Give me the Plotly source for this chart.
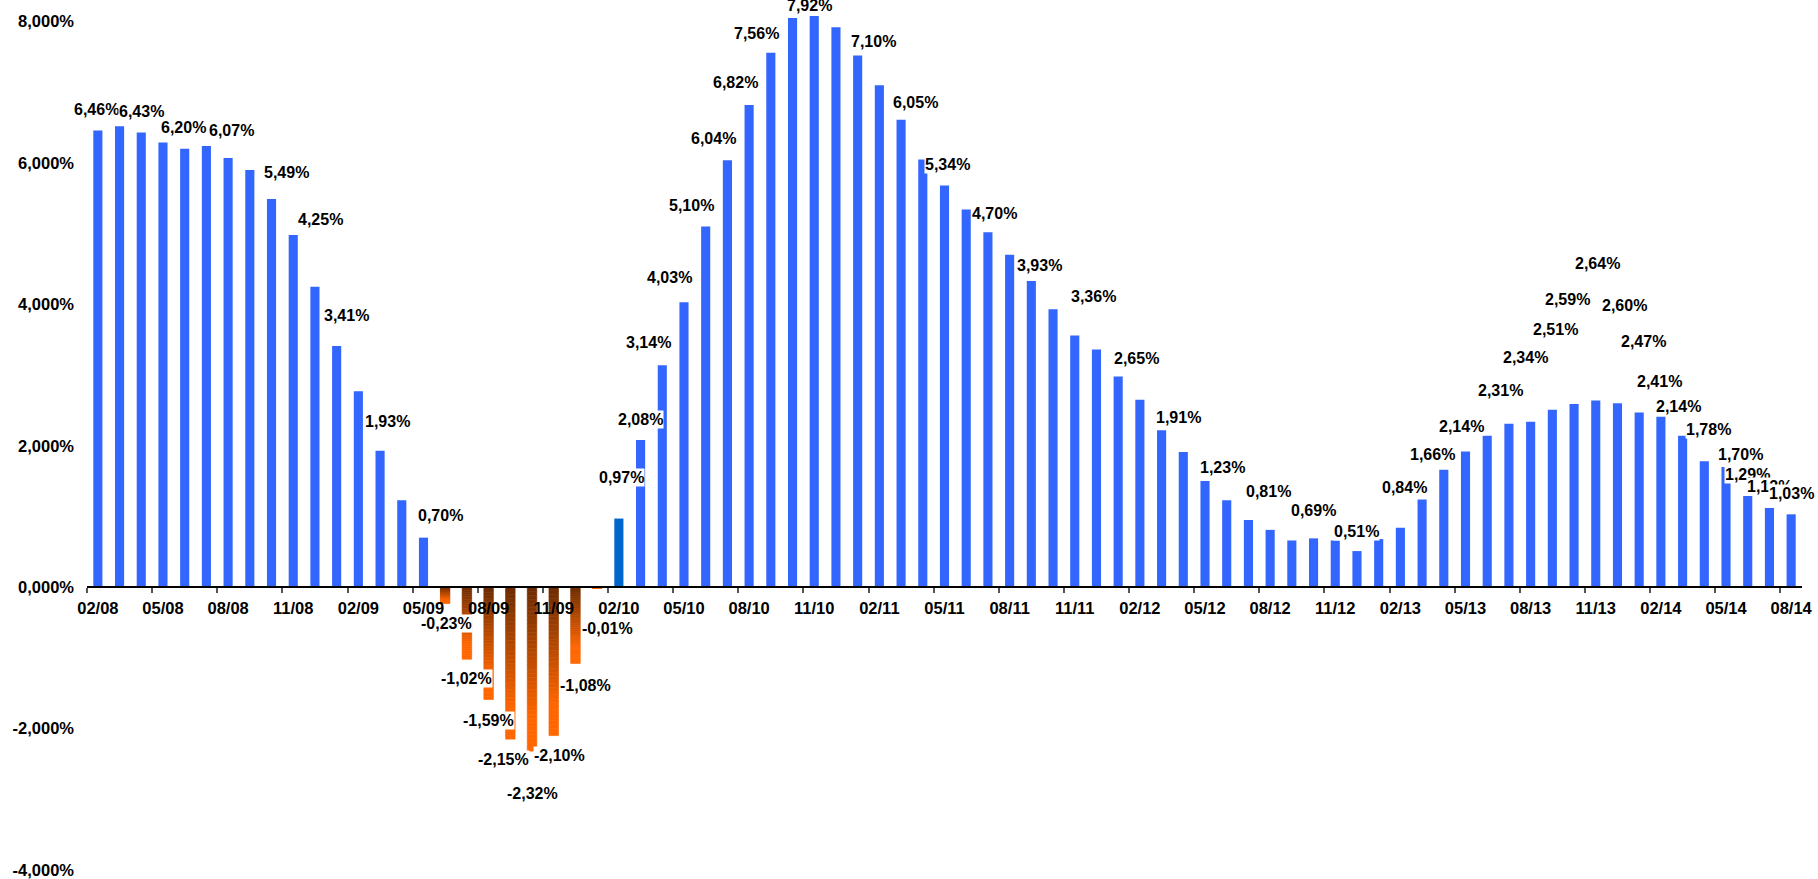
import plotly.graph_objects as go
import pandas as pd

# Monthly categories 02/08 .. 08/14
months = pd.date_range("2008-02-01", "2014-08-01", freq="MS").strftime("%m/%y").tolist()

# Year-on-year change, in percent
rate = [
    6.46, 6.52, 6.43, 6.29, 6.20, 6.24, 6.07, 5.90, 5.49, 4.98, 4.25,            # 2008
    3.41, 2.77, 1.93, 1.23, 0.70, -0.23, -1.02, -1.59, -2.15, -2.32, -2.10, -1.08,  # 2009
    -0.01, 0.97, 2.08, 3.14, 4.03, 5.10, 6.04, 6.82, 7.56, 8.05, 8.08, 7.92,     # 2010
    7.52, 7.10, 6.61, 6.05, 5.68, 5.34, 5.02, 4.70, 4.33, 3.93, 3.56, 3.36,      # 2011
    2.98, 2.65, 2.22, 1.91, 1.50, 1.23, 0.95, 0.81, 0.66, 0.69, 0.66, 0.51,      # 2012
    0.68, 0.84, 1.24, 1.66, 1.92, 2.14, 2.31, 2.34, 2.51, 2.59, 2.64, 2.60,      # 2013
    2.47, 2.41, 2.14, 1.78, 1.70, 1.29, 1.12, 1.03,                              # 2014
]

y_ticks = [-4, -2, 0, 2, 4, 6, 8]

# Which bars carry a value label, and where the label sits:
# (pixels beyond the bar end, pixels sideways)
label_offsets = {
    "02/08": (21, -1), "04/08": (21, 0), "06/08": (21, -1), "08/08": (28, 3),
    "10/08": (27, 15), "12/08": (67, 6), "01/09": (31, 10), "03/09": (29, 7),
    "05/09": (22, 17), "06/09": (20, 1), "07/09": (19, 0), "08/09": (21, 0),
    "09/09": (20, -7), "10/09": (42, 0), "11/09": (20, 6), "12/09": (22, 10),
    "01/10": (41, 10), "02/10": (41, 3), "03/10": (21, 0), "04/10": (23, -14),
    "05/10": (25, -14), "06/10": (21, -14), "07/10": (22, -14), "08/10": (22, -14),
    "09/10": (19, -14), "12/10": (22, -26), "02/11": (44, -6), "04/11": (57, -7),
    "06/11": (45, -19), "08/11": (41, -15), "10/11": (44, -14), "12/11": (53, -3),
    "02/12": (41, -3), "04/12": (35, -5), "06/12": (33, -4), "08/12": (38, -2),
    "10/12": (28, 0), "12/12": (20, 0), "02/13": (40, 4), "04/13": (15, -11),
    "06/13": (9, -26), "07/13": (33, -8), "08/13": (64, -5), "09/13": (80, 3),
    "10/13": (105, -7), "11/13": (137, 2), "12/13": (98, 7), "01/14": (71, 4),
    "02/14": (35, -1), "03/14": (29, -4), "04/14": (32, 4), "05/14": (12, 14),
    "06/14": (21, 0), "07/14": (21, 0), "08/14": (21, 0),
}

BLUE = "#3366FF"
HIGHLIGHT = {"02/10": "#0066CC"}
GRAD_TOP = (0x6B, 0x2B, 0x00)
GRAD_BOTTOM = (0xFF, 0x66, 0x00)
FONT = "Liberation Sans, Arial, sans-serif"


def fmt_pct(v, decimals):
    return f"{v:.{decimals}f}".replace(".", ",") + "%"


def grad_color(t):
    # dark brown at the zero line, fully orange at 80% of the bar length
    t = min(t / 0.8, 1.0)
    r, g, b = (round(a + (c - a) * t) for a, c in zip(GRAD_TOP, GRAD_BOTTOM))
    return f"rgb({r},{g},{b})"


fig = go.Figure()

# Positive months: plain blue bars
fig.add_trace(go.Bar(
    x=months,
    y=[v if v > 0 else None for v in rate],
    marker=dict(color=[HIGHLIGHT.get(m, BLUE) for m in months], line=dict(width=0)),
    width=0.42,
    hoverinfo="x+y",
))

# Negative months: each bar is built from thin stacked slices to get a vertical gradient
N_SLICES = 40
gx, gy, gbase, gcol = [], [], [], []
for m, v in zip(months, rate):
    if v >= 0:
        continue
    for j in range(N_SLICES):
        gx.append(m)
        gbase.append(v * j / N_SLICES)
        gy.append(v / N_SLICES)
        gcol.append(grad_color((j + 0.5) / N_SLICES))
fig.add_trace(go.Bar(
    x=gx, y=gy, base=gbase,
    marker=dict(color=gcol, line=dict(color=gcol, width=0.6)),
    width=0.44,
    hoverinfo="skip",
))

# Value labels
for m, v in zip(months, rate):
    if m not in label_offsets:
        continue
    dy, dx = label_offsets[m]
    fig.add_annotation(
        x=m, y=v, text=fmt_pct(v, 2), showarrow=False,
        xanchor="center", yanchor="middle",
        xshift=dx, yshift=dy if v >= 0 else -dy,
        bgcolor="white", borderpad=0,
        font=dict(family=FONT, size=16, color="black", weight="bold"),
    )

y_range = [-4.001, 8.305]
zero_pos = (0 - y_range[0]) / (y_range[1] - y_range[0])

fig.update_layout(
    width=1818, height=879,
    margin=dict(l=87, r=16, t=0, b=9, autoexpand=False),
    paper_bgcolor="white", plot_bgcolor="white",
    barmode="overlay",
    showlegend=False,
    font=dict(family=FONT, size=16, color="black"),
    xaxis=dict(
        type="category",
        categoryorder="array", categoryarray=months,
        tickmode="linear", tick0=0, dtick=3,
        tickson="boundaries", tickangle=0,
        ticks="outside", ticklen=5, tickwidth=1.5, tickcolor="#555555",
        showline=True, linecolor="black", linewidth=1.5,
        showgrid=False, zeroline=False,
        anchor="free", position=zero_pos,
        tickfont=dict(family=FONT, size=16.5, color="black", weight="bold"),
        ticklabelstandoff=6,
        range=[-0.5, len(months) - 0.5],
    ),
    yaxis=dict(
        range=y_range,
        tickmode="array", tickvals=y_ticks,
        ticktext=[fmt_pct(t, 3) for t in y_ticks],
        showgrid=False, zeroline=False, showline=False, ticks="",
        tickfont=dict(family=FONT, size=16.5, color="black", weight="bold"),
        ticklabelstandoff=12,
    ),
)

fig.write_html("out.html")
